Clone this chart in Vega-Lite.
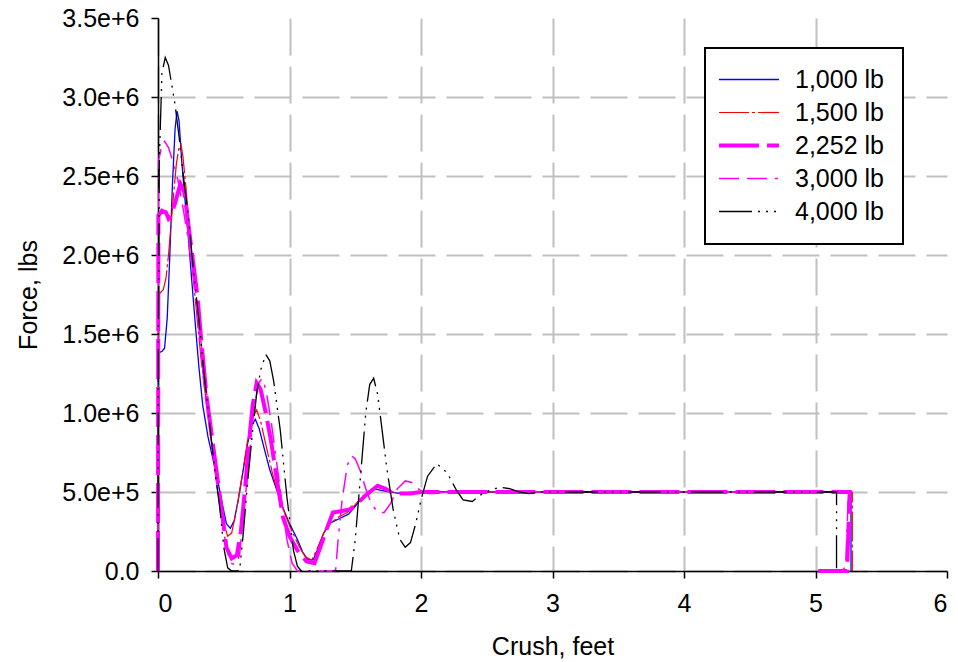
{
"$schema": "https://vega.github.io/schema/vega-lite/v6.json",
"width": 789, "height": 553,
"autosize": "none",
"padding": {"left": 158, "top": 18, "right": 11, "bottom": 91},
"background": "white",
"config": {
  "view": {"stroke": null},
  "font": "Liberation Sans",
  "axis": {"domainColor": "black", "domainWidth": 1.5, "tickColor": "black", "tickWidth": 1.5, "tickSize": 7,
           "gridColor": "#c0c0c0", "gridWidth": 2, "gridDash": [37, 11],
           "labelFont": "Liberation Sans", "labelFontSize": 25, "labelColor": "black",
           "titleFont": "Liberation Sans", "titleFontSize": 25, "titleFontWeight": "normal", "titleColor": "black"}
},
"datasets": {"curves": [
{"s":"1,000 lb","i":0,"x":0,"y":0},{"s":"1,000 lb","i":1,"x":0.003,"y":1380000},{"s":"1,000 lb","i":2,"x":0.03,"y":1390000},{"s":"1,000 lb","i":3,"x":0.05,"y":1410000},{"s":"1,000 lb","i":4,"x":0.07,"y":1600000},{"s":"1,000 lb","i":5,"x":0.09,"y":2000000},{"s":"1,000 lb","i":6,"x":0.11,"y":2450000},{"s":"1,000 lb","i":7,"x":0.13,"y":2800000},{"s":"1,000 lb","i":8,"x":0.145,"y":2910000},{"s":"1,000 lb","i":9,"x":0.16,"y":2850000},{"s":"1,000 lb","i":10,"x":0.18,"y":2600000},{"s":"1,000 lb","i":11,"x":0.2,"y":2400000},{"s":"1,000 lb","i":12,"x":0.23,"y":2120000},{"s":"1,000 lb","i":13,"x":0.27,"y":1700000},{"s":"1,000 lb","i":14,"x":0.31,"y":1300000},{"s":"1,000 lb","i":15,"x":0.34,"y":1050000},{"s":"1,000 lb","i":16,"x":0.38,"y":850000},{"s":"1,000 lb","i":17,"x":0.42,"y":700000},{"s":"1,000 lb","i":18,"x":0.45,"y":590000},{"s":"1,000 lb","i":19,"x":0.49,"y":420000},{"s":"1,000 lb","i":20,"x":0.52,"y":300000},{"s":"1,000 lb","i":21,"x":0.55,"y":270000},{"s":"1,000 lb","i":22,"x":0.58,"y":320000},{"s":"1,000 lb","i":23,"x":0.61,"y":450000},{"s":"1,000 lb","i":24,"x":0.64,"y":600000},{"s":"1,000 lb","i":25,"x":0.68,"y":800000},{"s":"1,000 lb","i":26,"x":0.71,"y":920000},{"s":"1,000 lb","i":27,"x":0.74,"y":960000},{"s":"1,000 lb","i":28,"x":0.77,"y":900000},{"s":"1,000 lb","i":29,"x":0.8,"y":800000},{"s":"1,000 lb","i":30,"x":0.85,"y":640000},{"s":"1,000 lb","i":31,"x":0.9,"y":520000},{"s":"1,000 lb","i":32,"x":0.95,"y":400000},{"s":"1,000 lb","i":33,"x":1.0,"y":300000},{"s":"1,000 lb","i":34,"x":1.06,"y":200000},{"s":"1,000 lb","i":35,"x":1.1,"y":120000},{"s":"1,000 lb","i":36,"x":1.14,"y":70000},{"s":"1,000 lb","i":37,"x":1.18,"y":70000},{"s":"1,000 lb","i":38,"x":1.22,"y":150000},{"s":"1,000 lb","i":39,"x":1.26,"y":240000},{"s":"1,000 lb","i":40,"x":1.3,"y":300000},{"s":"1,000 lb","i":41,"x":1.35,"y":320000},{"s":"1,000 lb","i":42,"x":1.4,"y":340000},{"s":"1,000 lb","i":43,"x":1.45,"y":360000},{"s":"1,000 lb","i":44,"x":1.5,"y":410000},{"s":"1,000 lb","i":45,"x":1.55,"y":460000},{"s":"1,000 lb","i":46,"x":1.6,"y":500000},{"s":"1,000 lb","i":47,"x":1.65,"y":520000},{"s":"1,000 lb","i":48,"x":1.7,"y":510000},{"s":"1,000 lb","i":49,"x":1.76,"y":500000},{"s":"1,000 lb","i":50,"x":1.85,"y":490000},{"s":"1,000 lb","i":51,"x":2.0,"y":500000},{"s":"1,000 lb","i":52,"x":5.27,"y":500000},{"s":"1,000 lb","i":53,"x":5.27,"y":0},
{"s":"1,500 lb","i":0,"x":0,"y":0},{"s":"1,500 lb","i":1,"x":0.005,"y":1750000},{"s":"1,500 lb","i":2,"x":0.04,"y":1780000},{"s":"1,500 lb","i":3,"x":0.06,"y":1850000},{"s":"1,500 lb","i":4,"x":0.08,"y":2000000},{"s":"1,500 lb","i":5,"x":0.11,"y":2300000},{"s":"1,500 lb","i":6,"x":0.14,"y":2580000},{"s":"1,500 lb","i":7,"x":0.16,"y":2680000},{"s":"1,500 lb","i":8,"x":0.175,"y":2700000},{"s":"1,500 lb","i":9,"x":0.19,"y":2620000},{"s":"1,500 lb","i":10,"x":0.21,"y":2450000},{"s":"1,500 lb","i":11,"x":0.24,"y":2160000},{"s":"1,500 lb","i":12,"x":0.28,"y":1750000},{"s":"1,500 lb","i":13,"x":0.33,"y":1320000},{"s":"1,500 lb","i":14,"x":0.37,"y":1050000},{"s":"1,500 lb","i":15,"x":0.4,"y":850000},{"s":"1,500 lb","i":16,"x":0.44,"y":600000},{"s":"1,500 lb","i":17,"x":0.47,"y":430000},{"s":"1,500 lb","i":18,"x":0.5,"y":300000},{"s":"1,500 lb","i":19,"x":0.53,"y":220000},{"s":"1,500 lb","i":20,"x":0.56,"y":240000},{"s":"1,500 lb","i":21,"x":0.6,"y":400000},{"s":"1,500 lb","i":22,"x":0.64,"y":600000},{"s":"1,500 lb","i":23,"x":0.68,"y":820000},{"s":"1,500 lb","i":24,"x":0.72,"y":980000},{"s":"1,500 lb","i":25,"x":0.75,"y":1020000},{"s":"1,500 lb","i":26,"x":0.78,"y":950000},{"s":"1,500 lb","i":27,"x":0.82,"y":800000},{"s":"1,500 lb","i":28,"x":0.87,"y":620000},{"s":"1,500 lb","i":29,"x":0.92,"y":470000},{"s":"1,500 lb","i":30,"x":0.97,"y":350000},{"s":"1,500 lb","i":31,"x":1.02,"y":250000},{"s":"1,500 lb","i":32,"x":1.07,"y":160000},{"s":"1,500 lb","i":33,"x":1.12,"y":90000},{"s":"1,500 lb","i":34,"x":1.17,"y":70000},{"s":"1,500 lb","i":35,"x":1.21,"y":140000},{"s":"1,500 lb","i":36,"x":1.26,"y":240000},{"s":"1,500 lb","i":37,"x":1.31,"y":300000},{"s":"1,500 lb","i":38,"x":1.37,"y":340000},{"s":"1,500 lb","i":39,"x":1.44,"y":370000},{"s":"1,500 lb","i":40,"x":1.5,"y":420000},{"s":"1,500 lb","i":41,"x":1.55,"y":470000},{"s":"1,500 lb","i":42,"x":1.6,"y":500000},{"s":"1,500 lb","i":43,"x":1.66,"y":530000},{"s":"1,500 lb","i":44,"x":1.72,"y":520000},{"s":"1,500 lb","i":45,"x":1.82,"y":490000},{"s":"1,500 lb","i":46,"x":1.95,"y":500000},{"s":"1,500 lb","i":47,"x":5.28,"y":500000},{"s":"1,500 lb","i":48,"x":5.28,"y":0},
{"s":"2,252 lb","i":0,"x":0,"y":0},{"s":"2,252 lb","i":1,"x":0.003,"y":2250000},{"s":"2,252 lb","i":2,"x":0.03,"y":2280000},{"s":"2,252 lb","i":3,"x":0.06,"y":2270000},{"s":"2,252 lb","i":4,"x":0.08,"y":2230000},{"s":"2,252 lb","i":5,"x":0.1,"y":2250000},{"s":"2,252 lb","i":6,"x":0.13,"y":2330000},{"s":"2,252 lb","i":7,"x":0.17,"y":2450000},{"s":"2,252 lb","i":8,"x":0.2,"y":2400000},{"s":"2,252 lb","i":9,"x":0.23,"y":2200000},{"s":"2,252 lb","i":10,"x":0.26,"y":2000000},{"s":"2,252 lb","i":11,"x":0.3,"y":1740000},{"s":"2,252 lb","i":12,"x":0.33,"y":1450000},{"s":"2,252 lb","i":13,"x":0.37,"y":1100000},{"s":"2,252 lb","i":14,"x":0.41,"y":850000},{"s":"2,252 lb","i":15,"x":0.45,"y":600000},{"s":"2,252 lb","i":16,"x":0.49,"y":350000},{"s":"2,252 lb","i":17,"x":0.52,"y":150000},{"s":"2,252 lb","i":18,"x":0.56,"y":80000},{"s":"2,252 lb","i":19,"x":0.6,"y":100000},{"s":"2,252 lb","i":20,"x":0.63,"y":250000},{"s":"2,252 lb","i":21,"x":0.66,"y":500000},{"s":"2,252 lb","i":22,"x":0.69,"y":800000},{"s":"2,252 lb","i":23,"x":0.72,"y":1050000},{"s":"2,252 lb","i":24,"x":0.75,"y":1190000},{"s":"2,252 lb","i":25,"x":0.78,"y":1150000},{"s":"2,252 lb","i":26,"x":0.82,"y":1000000},{"s":"2,252 lb","i":27,"x":0.86,"y":820000},{"s":"2,252 lb","i":28,"x":0.9,"y":600000},{"s":"2,252 lb","i":29,"x":0.95,"y":340000},{"s":"2,252 lb","i":30,"x":1.0,"y":220000},{"s":"2,252 lb","i":31,"x":1.06,"y":130000},{"s":"2,252 lb","i":32,"x":1.13,"y":60000},{"s":"2,252 lb","i":33,"x":1.19,"y":50000},{"s":"2,252 lb","i":34,"x":1.23,"y":140000},{"s":"2,252 lb","i":35,"x":1.28,"y":260000},{"s":"2,252 lb","i":36,"x":1.33,"y":370000},{"s":"2,252 lb","i":37,"x":1.4,"y":380000},{"s":"2,252 lb","i":38,"x":1.46,"y":390000},{"s":"2,252 lb","i":39,"x":1.52,"y":430000},{"s":"2,252 lb","i":40,"x":1.58,"y":480000},{"s":"2,252 lb","i":41,"x":1.67,"y":540000},{"s":"2,252 lb","i":42,"x":1.73,"y":520000},{"s":"2,252 lb","i":43,"x":1.79,"y":490000},{"s":"2,252 lb","i":44,"x":1.92,"y":490000},{"s":"2,252 lb","i":45,"x":2.0,"y":500000},{"s":"2,252 lb","i":46,"x":5.26,"y":500000},{"s":"2,252 lb","i":47,"x":5.24,"y":0},{"s":"2,252 lb","i":48,"x":5.02,"y":0},
{"s":"3,000 lb","i":0,"x":0,"y":0},{"s":"3,000 lb","i":1,"x":0.005,"y":2600000},{"s":"3,000 lb","i":2,"x":0.03,"y":2700000},{"s":"3,000 lb","i":3,"x":0.05,"y":2720000},{"s":"3,000 lb","i":4,"x":0.08,"y":2680000},{"s":"3,000 lb","i":5,"x":0.11,"y":2600000},{"s":"3,000 lb","i":6,"x":0.15,"y":2480000},{"s":"3,000 lb","i":7,"x":0.19,"y":2300000},{"s":"3,000 lb","i":8,"x":0.23,"y":2100000},{"s":"3,000 lb","i":9,"x":0.27,"y":1850000},{"s":"3,000 lb","i":10,"x":0.32,"y":1500000},{"s":"3,000 lb","i":11,"x":0.36,"y":1200000},{"s":"3,000 lb","i":12,"x":0.4,"y":900000},{"s":"3,000 lb","i":13,"x":0.44,"y":600000},{"s":"3,000 lb","i":14,"x":0.48,"y":350000},{"s":"3,000 lb","i":15,"x":0.52,"y":150000},{"s":"3,000 lb","i":16,"x":0.55,"y":50000},{"s":"3,000 lb","i":17,"x":0.59,"y":40000},{"s":"3,000 lb","i":18,"x":0.62,"y":100000},{"s":"3,000 lb","i":19,"x":0.65,"y":350000},{"s":"3,000 lb","i":20,"x":0.68,"y":600000},{"s":"3,000 lb","i":21,"x":0.72,"y":950000},{"s":"3,000 lb","i":22,"x":0.76,"y":1180000},{"s":"3,000 lb","i":23,"x":0.79,"y":1220000},{"s":"3,000 lb","i":24,"x":0.82,"y":1150000},{"s":"3,000 lb","i":25,"x":0.86,"y":950000},{"s":"3,000 lb","i":26,"x":0.9,"y":700000},{"s":"3,000 lb","i":27,"x":0.94,"y":450000},{"s":"3,000 lb","i":28,"x":0.98,"y":200000},{"s":"3,000 lb","i":29,"x":1.02,"y":50000},{"s":"3,000 lb","i":30,"x":1.06,"y":0},{"s":"3,000 lb","i":31,"x":1.35,"y":0},{"s":"3,000 lb","i":32,"x":1.37,"y":200000},{"s":"3,000 lb","i":33,"x":1.4,"y":450000},{"s":"3,000 lb","i":34,"x":1.44,"y":670000},{"s":"3,000 lb","i":35,"x":1.47,"y":730000},{"s":"3,000 lb","i":36,"x":1.5,"y":710000},{"s":"3,000 lb","i":37,"x":1.54,"y":630000},{"s":"3,000 lb","i":38,"x":1.58,"y":520000},{"s":"3,000 lb","i":39,"x":1.62,"y":430000},{"s":"3,000 lb","i":40,"x":1.67,"y":370000},{"s":"3,000 lb","i":41,"x":1.72,"y":370000},{"s":"3,000 lb","i":42,"x":1.77,"y":430000},{"s":"3,000 lb","i":43,"x":1.82,"y":520000},{"s":"3,000 lb","i":44,"x":1.88,"y":570000},{"s":"3,000 lb","i":45,"x":1.93,"y":560000},{"s":"3,000 lb","i":46,"x":1.98,"y":520000},{"s":"3,000 lb","i":47,"x":2.04,"y":490000},{"s":"3,000 lb","i":48,"x":2.1,"y":490000},{"s":"3,000 lb","i":49,"x":2.2,"y":500000},{"s":"3,000 lb","i":50,"x":5.25,"y":500000},{"s":"3,000 lb","i":51,"x":5.23,"y":30000},{"s":"3,000 lb","i":52,"x":5.2,"y":0},
{"s":"4,000 lb","i":0,"x":0,"y":0},{"s":"4,000 lb","i":1,"x":0.003,"y":1500000},{"s":"4,000 lb","i":2,"x":0.01,"y":2600000},{"s":"4,000 lb","i":3,"x":0.03,"y":3150000},{"s":"4,000 lb","i":4,"x":0.055,"y":3250000},{"s":"4,000 lb","i":5,"x":0.08,"y":3200000},{"s":"4,000 lb","i":6,"x":0.11,"y":3050000},{"s":"4,000 lb","i":7,"x":0.13,"y":2950000},{"s":"4,000 lb","i":8,"x":0.16,"y":2750000},{"s":"4,000 lb","i":9,"x":0.19,"y":2520000},{"s":"4,000 lb","i":10,"x":0.23,"y":2250000},{"s":"4,000 lb","i":11,"x":0.27,"y":1900000},{"s":"4,000 lb","i":12,"x":0.31,"y":1600000},{"s":"4,000 lb","i":13,"x":0.35,"y":1250000},{"s":"4,000 lb","i":14,"x":0.39,"y":950000},{"s":"4,000 lb","i":15,"x":0.43,"y":650000},{"s":"4,000 lb","i":16,"x":0.47,"y":400000},{"s":"4,000 lb","i":17,"x":0.5,"y":150000},{"s":"4,000 lb","i":18,"x":0.53,"y":20000},{"s":"4,000 lb","i":19,"x":0.56,"y":0},{"s":"4,000 lb","i":20,"x":0.62,"y":0},{"s":"4,000 lb","i":21,"x":0.65,"y":250000},{"s":"4,000 lb","i":22,"x":0.68,"y":550000},{"s":"4,000 lb","i":23,"x":0.72,"y":890000},{"s":"4,000 lb","i":24,"x":0.75,"y":1120000},{"s":"4,000 lb","i":25,"x":0.78,"y":1270000},{"s":"4,000 lb","i":26,"x":0.82,"y":1370000},{"s":"4,000 lb","i":27,"x":0.85,"y":1330000},{"s":"4,000 lb","i":28,"x":0.88,"y":1200000},{"s":"4,000 lb","i":29,"x":0.93,"y":890000},{"s":"4,000 lb","i":30,"x":0.98,"y":470000},{"s":"4,000 lb","i":31,"x":1.03,"y":130000},{"s":"4,000 lb","i":32,"x":1.06,"y":30000},{"s":"4,000 lb","i":33,"x":1.09,"y":0},{"s":"4,000 lb","i":34,"x":1.47,"y":0},{"s":"4,000 lb","i":35,"x":1.5,"y":200000},{"s":"4,000 lb","i":36,"x":1.54,"y":600000},{"s":"4,000 lb","i":37,"x":1.58,"y":1000000},{"s":"4,000 lb","i":38,"x":1.61,"y":1180000},{"s":"4,000 lb","i":39,"x":1.64,"y":1220000},{"s":"4,000 lb","i":40,"x":1.67,"y":1120000},{"s":"4,000 lb","i":41,"x":1.7,"y":920000},{"s":"4,000 lb","i":42,"x":1.74,"y":650000},{"s":"4,000 lb","i":43,"x":1.79,"y":380000},{"s":"4,000 lb","i":44,"x":1.84,"y":200000},{"s":"4,000 lb","i":45,"x":1.88,"y":150000},{"s":"4,000 lb","i":46,"x":1.92,"y":180000},{"s":"4,000 lb","i":47,"x":1.96,"y":300000},{"s":"4,000 lb","i":48,"x":2.0,"y":450000},{"s":"4,000 lb","i":49,"x":2.05,"y":600000},{"s":"4,000 lb","i":50,"x":2.12,"y":680000},{"s":"4,000 lb","i":51,"x":2.2,"y":620000},{"s":"4,000 lb","i":52,"x":2.27,"y":510000},{"s":"4,000 lb","i":53,"x":2.32,"y":450000},{"s":"4,000 lb","i":54,"x":2.39,"y":440000},{"s":"4,000 lb","i":55,"x":2.45,"y":480000},{"s":"4,000 lb","i":56,"x":2.52,"y":510000},{"s":"4,000 lb","i":57,"x":2.6,"y":530000},{"s":"4,000 lb","i":58,"x":2.68,"y":520000},{"s":"4,000 lb","i":59,"x":2.75,"y":500000},{"s":"4,000 lb","i":60,"x":2.82,"y":490000},{"s":"4,000 lb","i":61,"x":2.9,"y":500000},{"s":"4,000 lb","i":62,"x":5.16,"y":500000},{"s":"4,000 lb","i":63,"x":5.16,"y":0}
]},
"data": {"name": "curves"},
"mark": {"type": "line", "clip": false, "interpolate": "linear"},
"encoding": {
  "x": {"field": "x", "type": "quantitative",
        "scale": {"domain": [0, 6], "nice": false, "zero": false},
        "axis": {"title": "Crush, feet", "values": [0, 1, 2, 3, 4, 5, 6], "format": "d", "labelPadding": 13, "titlePadding": 18,
                 "gridOpacity": {"condition": {"test": "datum.value == 6", "value": 0}, "value": 1}}},
  "y": {"field": "y", "type": "quantitative",
        "scale": {"domain": [0, 3500000], "nice": false},
        "axis": {"title": "Force, lbs", "values": [0, 500000, 1000000, 1500000, 2000000, 2500000, 3000000, 3500000],
                 "labelExpr": "datum.value == 0 ? '0.0' : format(datum.value, '.1e')", "labelPadding": 12, "titlePadding": 20,
                 "gridOpacity": {"condition": {"test": "datum.value == 3500000", "value": 0}, "value": 1}}},
  "color": {"field": "s", "type": "nominal",
            "scale": {"domain": ["1,000 lb", "1,500 lb", "2,252 lb", "3,000 lb", "4,000 lb"],
                      "range": ["#0000ff", "#ff0000", "#ff00ff", "#ff00ff", "#000000"]},
            "legend": {"title": null, "orient": "none", "legendX": 547, "legendY": 30,
                       "symbolType": "stroke", "symbolSize": 3600, "symbolOffset": -7,
                       "labelFont": "Liberation Sans", "labelFontSize": 25, "labelColor": "black", "labelOffset": 14, "labelLimit": 120,
                       "strokeColor": "black", "fillColor": "white", "padding": 19, "rowPadding": 7,
                       "encode": {"legend": {"update": {"strokeWidth": {"value": 2}}},
                                  "symbols": {"update": {"y": {"value": 12.5}}},
                                  "labels": {"update": {"y": {"value": 12.5}}}}}},
  "strokeDash": {"field": "s", "type": "nominal",
                 "scale": {"domain": ["1,000 lb", "1,500 lb", "2,252 lb", "3,000 lb", "4,000 lb"],
                           "range": [[1, 0], [30, 3, 3, 3], [40, 8], [20, 8, 20, 8, 3, 8], [33, 6, 2, 6, 2, 6, 2, 6]]}},
  "strokeWidth": {"field": "s", "type": "nominal",
                  "scale": {"type": "ordinal", "domain": ["1,000 lb", "1,500 lb", "2,252 lb", "3,000 lb", "4,000 lb"],
                            "range": [1.3, 1.2, 4, 1.5, 1.3]}},
  "order": {"field": "i", "type": "quantitative"}
}
}
